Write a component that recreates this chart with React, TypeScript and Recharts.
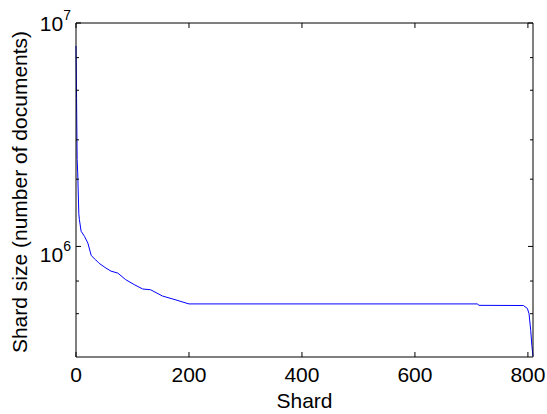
import { LineChart, Line, XAxis, YAxis } from 'recharts';

// shard index vs. shard size
const shards = [0, 1, 2, 3, 5, 6, 9, 15, 21, 27, 35, 41, 53, 62, 74, 88, 103, 118, 132, 153, 177, 200, 711, 713, 792, 799, 802, 805, 807, 809];
const sizes = [
  7900000, 4600000, 2450000, 2150000, 1400000, 1320000, 1170000, 1110000, 1035000, 910000,
  870000, 840000, 800000, 775000, 760000, 710000, 675000, 645000, 640000, 600000,
  576000, 553000, 553000, 545000, 544000, 528000, 500000, 420000, 360000, 322000,
];

const xTicks = [0, 200, 400, 600, 800];
const yTicks = [
  400000, 500000, 600000, 700000, 800000, 900000, 1000000,
  2000000, 3000000, 4000000, 5000000, 6000000, 7000000, 8000000, 9000000, 10000000,
];
const majorY: Record<number, string> = { 1000000: '6', 10000000: '7' };

const data = shards.map((s, i) => ({ shard: s, size: sizes[i] }));

const FONT = 'Liberation Sans, Arial, Helvetica, sans-serif';
const TS = 0.01;

function LeftTick(props: any) {
  const { x, y, payload } = props;
  const exp = majorY[payload.value];
  const len = exp ? 5 : 3;
  return (
    <g>
      <line x1={x} y1={y} x2={x + len} y2={y} stroke="#000" />
      {exp && (
        <text x={x - 5} y={y + (exp === '7' ? 8 : 16)} textAnchor="end" fontSize={21} fontFamily={FONT} fill="#000">
          10<tspan dy={-11} fontSize={14}>{exp}</tspan>
        </text>
      )}
    </g>
  );
}

function RightTick(props: any) {
  const { x, y, payload } = props;
  const len = majorY[payload.value] ? 5 : 3;
  return <line x1={x} y1={y} x2={x - len} y2={y} stroke="#000" />;
}

function BottomTick(props: any) {
  const { x, y, payload } = props;
  return (
    <g>
      <line x1={x} y1={y} x2={x} y2={y - 5} stroke="#000" />
      <text x={x} y={y + 25} textAnchor="middle" fontSize={21} fontFamily={FONT} fill="#000">
        {payload.value}
      </text>
    </g>
  );
}

function TopTick(props: any) {
  const { x, y } = props;
  return <line x1={x} y1={y} x2={x} y2={y + 5} stroke="#000" />;
}

export default function App() {
  return (
    <div style={{ position: 'absolute', left: 0, top: 0, background: '#fff' }}>
      <LineChart width={547} height={414} data={data} margin={{ top: 0, right: 0, bottom: 0, left: 0 }}>
        <XAxis
          xAxisId="bottom"
          dataKey="shard"
          type="number"
          domain={[0, 809]}
          ticks={xTicks}
          height={57}
          tickSize={TS}
          tickMargin={0}
          tickLine={false}
          tick={<BottomTick />}
          axisLine={{ stroke: '#000' }}
          label={{
            content: ({ viewBox }: any) => (
              <text x={viewBox.x + viewBox.width / 2} y={viewBox.y + 51} textAnchor="middle" fontSize={21} fontFamily={FONT} fill="#000">
                Shard
              </text>
            ),
          }}
        />
        <XAxis
          xAxisId="top"
          orientation="top"
          dataKey="shard"
          type="number"
          domain={[0, 809]}
          ticks={xTicks}
          height={23}
          tickSize={TS}
          tickMargin={0}
          tickLine={false}
          tick={<TopTick />}
          axisLine={{ stroke: '#000' }}
        />
        <YAxis
          yAxisId="left"
          scale="log"
          domain={[320000, 10000000]}
          allowDataOverflow
          ticks={yTicks}
          width={76}
          tickSize={TS}
          tickMargin={0}
          tickLine={false}
          tick={<LeftTick />}
          axisLine={{ stroke: '#000' }}
          label={{
            content: ({ viewBox }: any) => {
              const cx = viewBox.x + 27;
              const cy = viewBox.y + viewBox.height / 2 + 2;
              return (
                <text x={cx} y={cy} transform={`rotate(-90 ${cx} ${cy})`} textAnchor="middle" fontSize={21} fontFamily={FONT} fill="#000">
                  Shard size (number of documents)
                </text>
              );
            },
          }}
        />
        <YAxis
          yAxisId="right"
          orientation="right"
          scale="log"
          domain={[320000, 10000000]}
          allowDataOverflow
          ticks={yTicks}
          width={14}
          tickSize={TS}
          tickMargin={0}
          tickLine={false}
          tick={<RightTick />}
          axisLine={{ stroke: '#000' }}
        />
        <Line
          xAxisId="bottom"
          yAxisId="left"
          type="linear"
          dataKey="size"
          stroke="#0000ff"
          strokeWidth={1}
          dot={false}
          isAnimationActive={false}
        />
      </LineChart>
    </div>
  );
}
